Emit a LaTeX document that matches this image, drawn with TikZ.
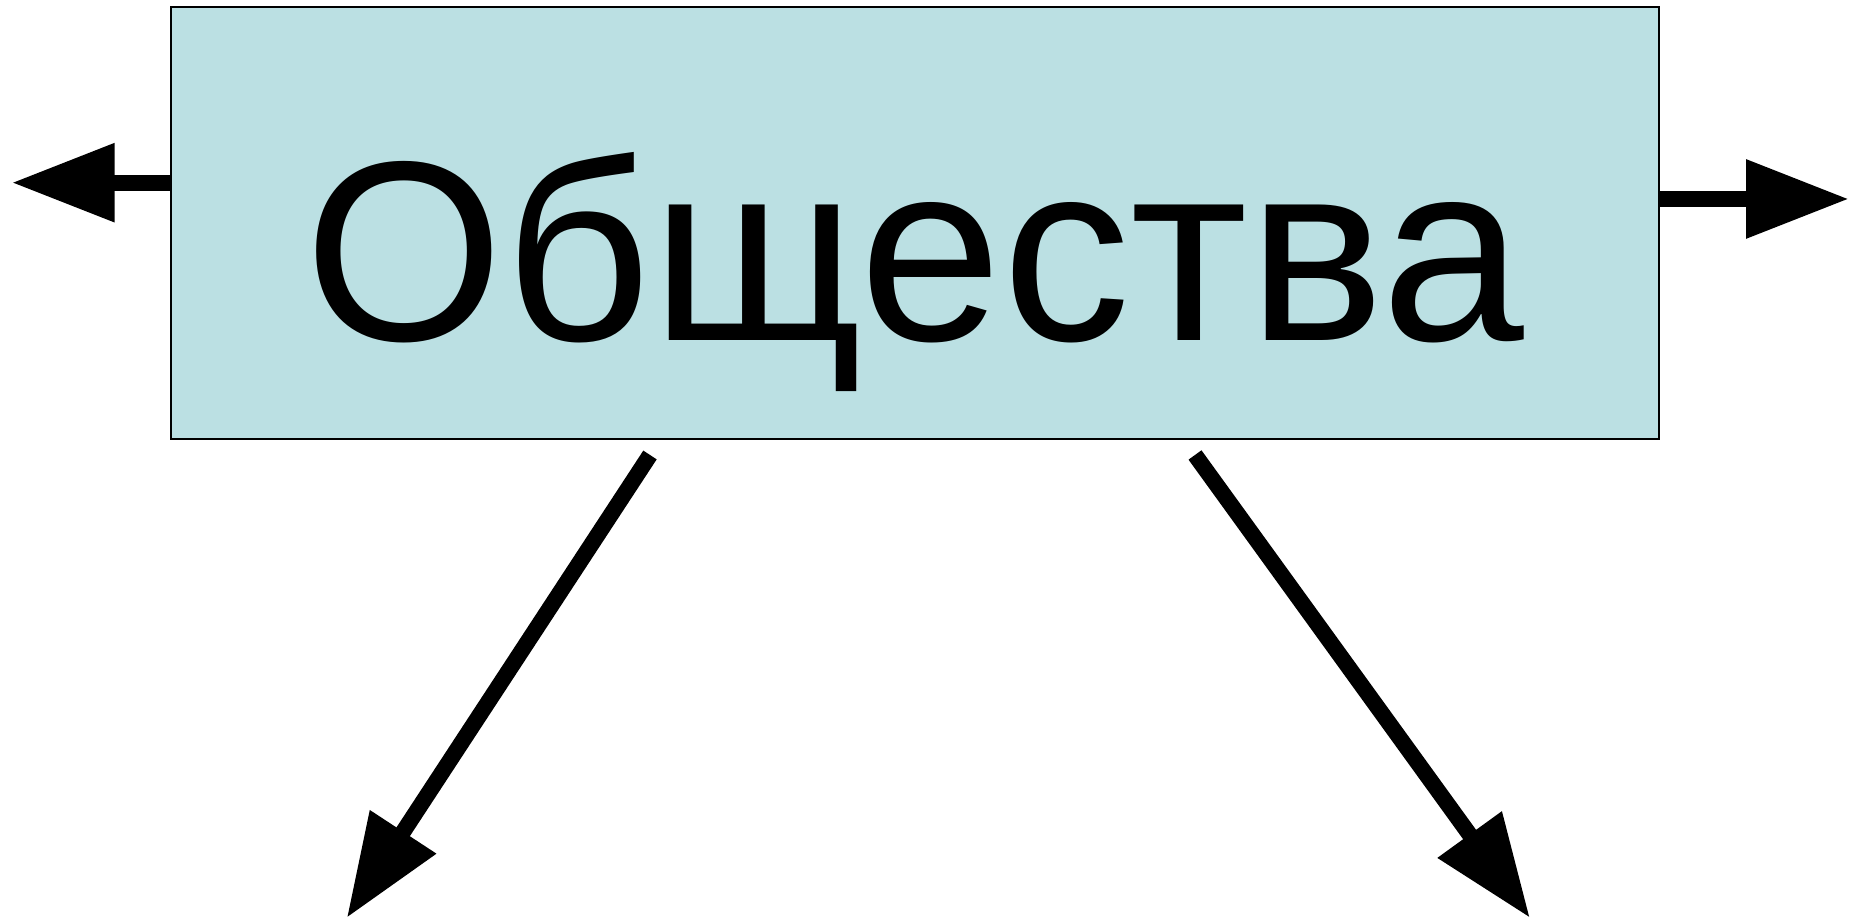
\documentclass[tikz,border=0pt]{standalone}
\usepackage{fontspec}
\setmainfont{Liberation Sans}
\usetikzlibrary{arrows.meta}

\definecolor{boxfill}{RGB}{187,224,227}

\tikzset{
  mainbox/.style={draw=black, line width=0.57pt, fill=boxfill, inner sep=0pt,
    minimum width=14.883cm, minimum height=4.32cm},
  bigarrow/.style={line width=4.55pt, line cap=butt,
    -{Triangle[length=1.03cm, width=0.75cm]}}
}

\begin{document}
\begin{tikzpicture}
    \useasboundingbox (0,0) rectangle (18.49,9.19);
    \node[mainbox] (society) at (9.149,6.963) {};
    \node[anchor=base, inner sep=0pt] (society text) at (9.145,5.783)
      {\fontsize{73}{80}\selectfont Общества};
    \coordinate (left start)  at (1.707,7.363);
    \coordinate (left tip)    at (0.117,7.363);
    \coordinate (right start) at (16.59,7.20);
    \coordinate (right tip)   at (18.49,7.20);
    \coordinate (down left start)  at (6.50,4.64);
    \coordinate (down left tip)    at (3.467,0.01);
    \coordinate (down right start) at (11.95,4.64);
    \coordinate (down right tip)   at (15.30,0.01);
    \draw[bigarrow] (left start) -- (left tip);
    \draw[bigarrow] (right start) -- (right tip);
    \draw[bigarrow] (down left start) -- (down left tip);
    \draw[bigarrow] (down right start) -- (down right tip);
  \end{tikzpicture}
\end{document}
